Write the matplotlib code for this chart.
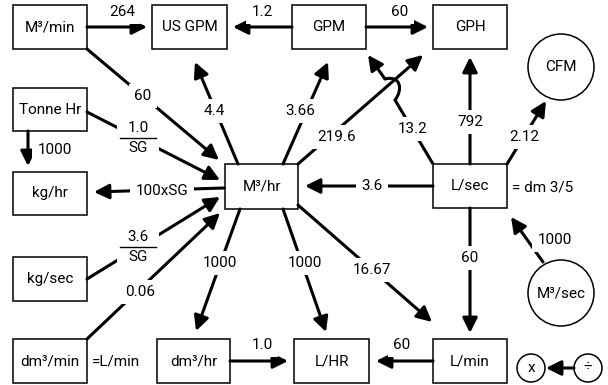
import matplotlib
matplotlib.use("Agg")
import matplotlib.pyplot as plt
from matplotlib.patches import Rectangle, Circle, FancyArrowPatch, PathPatch
from matplotlib.path import Path

plt.rcParams['font.family'] = ['Roboto', 'DejaVu Sans']

# ---- content ----
box_labels = ["M³/min", "US GPM", "GPM", "GPH", "Tonne Hr", "kg/hr", "M³/hr",
              "L/sec", "kg/sec", "dm³/min", "dm³/hr", "L/HR", "L/min"]
circle_labels = ["CFM", "M³/sec"]
edge_labels = ["264", "1.2", "60", "60", "1000", "100xSG", "4.4", "3.66",
               "219.6", "13.2", "792", "2.12", "3.6", "60", "1000", "1000",
               "1000", "16.67", "1.0", "60", "0.06"]
fraction_labels = [("1.0", "SG"), ("3.6", "SG")]
side_notes = ["= dm 3/5", "=L/min"]
legend_symbols = ["x", "÷"]

# ---- layout (pixel space) ----
W, H = 608, 385
fig = plt.figure(figsize=(W / 100, H / 100), dpi=100)
ax = fig.add_axes([0, 0, 1, 1])
ax.set_xlim(0, W)
ax.set_ylim(H, 0)
ax.axis('off')

box_pos = {  # x0, y0, x1, y1
    "M³/min": (13, 5, 87, 49), "US GPM": (152, 5, 227, 49),
    "GPM": (292, 5, 366, 49), "GPH": (433, 5, 507, 49),
    "Tonne Hr": (13, 88, 87, 131), "kg/hr": (13, 172, 87, 215),
    "M³/hr": (225, 164, 298, 209), "L/sec": (433, 164, 507, 208),
    "kg/sec": (13, 257, 87, 301), "dm³/min": (13, 339, 87, 383),
    "dm³/hr": (157, 339, 230, 383), "L/HR": (294, 339, 369, 383),
    "L/min": (433, 339, 507, 383),
}
circle_pos = {"CFM": (561, 67, 33), "M³/sec": (561, 293, 33)}

FS = 11
for lab in box_labels:
    x0, y0, x1, y1 = box_pos[lab]
    ax.add_patch(Rectangle((x0, y0), x1 - x0, y1 - y0, fill=False, lw=1.1, ec='black'))
    ax.text((x0 + x1) / 2, (y0 + y1) / 2, lab, ha='center', va='center', fontsize=FS)
for lab in circle_labels:
    cx, cy, r = circle_pos[lab]
    ax.add_patch(Circle((cx, cy), r, fill=False, lw=1.1, ec='black'))
    ax.text(cx, cy, lab, ha='center', va='center', fontsize=FS)

LW = 2.2
def arrow(p0, p1, head=True):
    style = '-|>,head_length=0.9,head_width=0.45' if head else '-'
    a = FancyArrowPatch(p0, p1, arrowstyle=style, mutation_scale=10, lw=LW,
                        color='black', shrinkA=0, shrinkB=0, zorder=2)
    ax.add_patch(a)

def label(x, y, s, bg=True):
    kw = dict(ha='center', va='center', fontsize=FS, zorder=4)
    if bg:
        kw['bbox'] = dict(boxstyle='square,pad=0.35', fc='white', ec='none')
    ax.text(x, y, s, **kw)

# edges: (start, end, label position)
edges = [
    ((87, 27), (147, 27), (122, 12)),
    ((292, 27), (233, 27), (262, 12)),
    ((366, 27), (428, 27), (400, 12)),
    ((87, 49), (219, 160), (143, 96)),
    ((28, 131), (28, 166), (55, 150)),
    ((224, 188), (94, 192), (162, 191)),
    ((238, 164), (195, 62), (214, 111)),
    ((283, 164), (328, 62), (300, 111)),
    ((298, 164), (423, 55), (337, 137)),
    None,
    ((470, 164), (470, 57), (470, 122)),
    ((507, 164), (546, 101), (524, 137)),
    ((433, 186), (305, 186), (372, 186)),
    ((470, 208), (470, 333), (470, 258)),
    ((543, 262), (511, 217), (555, 240)),
    ((240, 209), (196, 331), (220, 263)),
    ((283, 209), (326, 332), (305, 263)),
    ((298, 205), (432, 322), (372, 270)),
    ((230, 361), (288, 361), (262, 345)),
    ((433, 361), (376, 361), (402, 345)),
    ((87, 339), (220, 213), (140, 292)),
]
for e, lab in zip(edges, edge_labels):
    if e is None:
        continue
    p0, p1, lp = e
    arrow(p0, p1)
    label(lp[0], lp[1], lab)

# 13.2 edge hopping over the 219.6 line
verts = [(433, 164), (395, 100), (403, 90), (401, 75), (385, 79)]
codes = [Path.MOVETO, Path.LINETO, Path.CURVE4, Path.CURVE4, Path.CURVE4]
ax.add_patch(PathPatch(Path(verts, codes), fill=False, lw=LW, ec='black',
                       capstyle='butt', joinstyle='miter', zorder=2))
arrow((385, 79), (368, 55))
label(413, 129, edge_labels[9])

# fraction labels
frac_edges = [((87, 112), (220, 180), (138, 138)),
              ((87, 279), (220, 197), (138, 247))]
for (num, den), (p0, p1, lp) in zip(fraction_labels, frac_edges):
    arrow(p0, p1)
    x, y = lp
    ax.add_patch(Rectangle((x - 21, y - 18), 42, 37, fc='white', ec='none', zorder=3))
    ax.text(x, y - 10, num, ha='center', va='center', fontsize=FS, zorder=4)
    ax.plot([x - 18, x + 18], [y, y], color='black', lw=1.0, zorder=4)
    ax.text(x, y + 10, den, ha='center', va='center', fontsize=FS, zorder=4)

# side notes
ax.text(512, 187, side_notes[0], ha='left', va='center', fontsize=FS)
ax.text(92, 362, side_notes[1], ha='left', va='center', fontsize=FS)

# legend x <- ÷
for (cx, s) in zip((531, 588), legend_symbols):
    ax.add_patch(Circle((cx, 368), 14, fill=False, lw=1.1, ec='black'))
    ax.text(cx, 368, s, ha='center', va='center', fontsize=FS)
arrow((574, 368), (546, 368))

fig.savefig("out.png", dpi=100)
